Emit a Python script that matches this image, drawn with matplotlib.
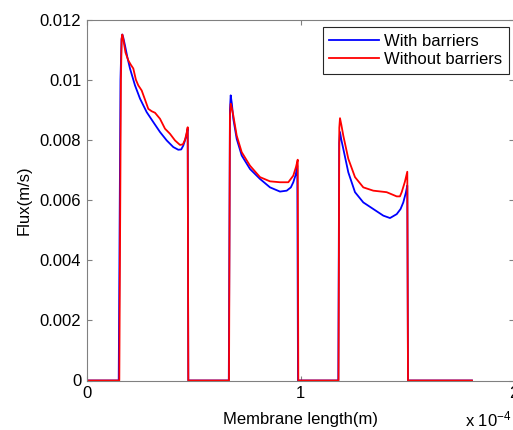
import matplotlib
matplotlib.use("Agg")
import matplotlib.pyplot as plt
from matplotlib.ticker import FuncFormatter, MultipleLocator

plt.rcParams['font.family'] = ['Liberation Sans', 'DejaVu Sans']
plt.rcParams['mathtext.default'] = 'regular'

# x in units of 1e-4 m
x_with = [0.0, 0.1497, 0.1580, 0.1630, 0.1665, 0.1710, 0.1790, 0.1900, 0.2025, 0.2259, 0.2493,
          0.2806, 0.3115, 0.3428, 0.3742, 0.4050, 0.4284, 0.4420, 0.4518, 0.4650, 0.4724, 0.4752,
          0.6646, 0.6700, 0.6735, 0.6790, 0.6857, 0.7016, 0.7250, 0.7638, 0.8106, 0.8574,
          0.9041, 0.9355, 0.9550, 0.9663, 0.9780, 0.9850, 0.9883,
          1.1768, 1.1810, 1.1847, 1.1910, 1.2002, 1.2236, 1.2549, 1.2937, 1.3405, 1.3873,
          1.4186, 1.4500, 1.4680, 1.4808, 1.4930, 1.4995, 1.5028, 1.8020]
flux_with = [0.0, 0.0, 0.0100, 0.01135, 0.01150, 0.01140, 0.01114, 0.01075, 0.01037, 0.00981, 0.00937,
             0.00892, 0.00859, 0.00826, 0.00798, 0.00776, 0.00767, 0.00768, 0.00781, 0.00810, 0.00837, 0.0,
             0.0, 0.00900, 0.00948, 0.00920, 0.00870, 0.00803, 0.00748, 0.00703, 0.00670, 0.00642,
             0.00628, 0.00631, 0.00642, 0.00659, 0.00685, 0.00714, 0.0,
             0.0, 0.00790, 0.00826, 0.00800, 0.00770, 0.00692, 0.00626, 0.00592, 0.00570, 0.00548,
             0.00540, 0.00553, 0.00570, 0.00592, 0.00625, 0.00648, 0.0, 0.0]

x_without = [0.0, 0.1525, 0.1600, 0.1635, 0.1665, 0.1710, 0.1815, 0.1946, 0.2060, 0.2180, 0.2300,
             0.2413, 0.2572, 0.2720, 0.2881, 0.3040, 0.3195, 0.3428, 0.3662, 0.3896, 0.4130,
             0.4364, 0.4500, 0.4598, 0.4680, 0.4724, 0.4752,
             0.6656, 0.6700, 0.6735, 0.6790, 0.6857, 0.7016, 0.7250, 0.7638, 0.8106, 0.8574,
             0.9041, 0.9430, 0.9663, 0.9790, 0.9870, 0.9897,
             1.1778, 1.1815, 1.1847, 1.1910, 1.2002, 1.2236, 1.2549, 1.2937, 1.3405, 1.4030,
             1.4500, 1.4650, 1.4734, 1.4880, 1.4995, 1.5028, 1.8020]
flux_without = [0.0, 0.0, 0.0100, 0.01135, 0.01150, 0.01135, 0.01090, 0.01064, 0.01050, 0.01037, 0.01000,
                0.00981, 0.00964, 0.00935, 0.00903, 0.00895, 0.00890, 0.00870, 0.00837, 0.00820, 0.00798,
                0.00783, 0.00785, 0.00800, 0.00825, 0.00842, 0.0,
                0.0, 0.00880, 0.00920, 0.00905, 0.00881, 0.00814, 0.00759, 0.00714, 0.00676, 0.00662,
                0.00659, 0.00659, 0.00681, 0.00710, 0.00734, 0.0,
                0.0, 0.00840, 0.00872, 0.00850, 0.00814, 0.00737, 0.00676, 0.00642, 0.00631, 0.00626,
                0.00612, 0.00612, 0.00626, 0.00660, 0.00694, 0.0, 0.0]

labels = ["With barriers", "Without barriers"]
x_scale = 1e-4

W, H = 513, 430
fig = plt.figure(figsize=(W / 100, H / 100), dpi=100)
ax = fig.add_axes([86.7 / W, (H - 380.5) / H, (514.3 - 86.7) / W, (380.5 - 19.5) / H])

ax.plot([v * x_scale for v in x_with], flux_with, color='#0000ff', lw=1.3, label=labels[0])
ax.plot([v * x_scale for v in x_without], flux_without, color='#ff0000', lw=1.3, label=labels[1])

ax.set_xlim(0, 2e-4)
ax.set_ylim(0, 0.012)
ax.xaxis.set_major_locator(MultipleLocator(1e-4))
ax.yaxis.set_major_locator(MultipleLocator(0.002))
ax.xaxis.set_major_formatter(FuncFormatter(lambda v, p: '%g' % round(v / x_scale, 6)))
ax.yaxis.set_major_formatter(FuncFormatter(lambda v, p: '%g' % round(v, 6)))

for s in ax.spines.values():
    s.set_color('0.5')
    s.set_linewidth(0.8)
ax.tick_params(direction='in', length=3.5, width=0.8, color='0.5', top=True, right=True,
               labelsize=12, labelcolor='black', pad=4)

ax.set_xlabel('Membrane length(m)', fontsize=12, labelpad=8)
ax.set_ylabel('Flux(m/s)', fontsize=12, labelpad=6)

fig.text(512 / W, 1 / H, 'x 10$^{-4}$', fontsize=12, ha='right', va='bottom')

leg = ax.legend(loc='upper right', bbox_to_anchor=(509 / W, (H - 27.3) / H),
                bbox_transform=fig.transFigure, fontsize=12, handlelength=3.0,
                handletextpad=0.3, borderaxespad=0, labelspacing=0.2, borderpad=0.4,
                fancybox=False, framealpha=1)
leg.get_frame().set_edgecolor('0.15')
leg.get_frame().set_linewidth(0.8)

fig.savefig('out.png', dpi=100)
